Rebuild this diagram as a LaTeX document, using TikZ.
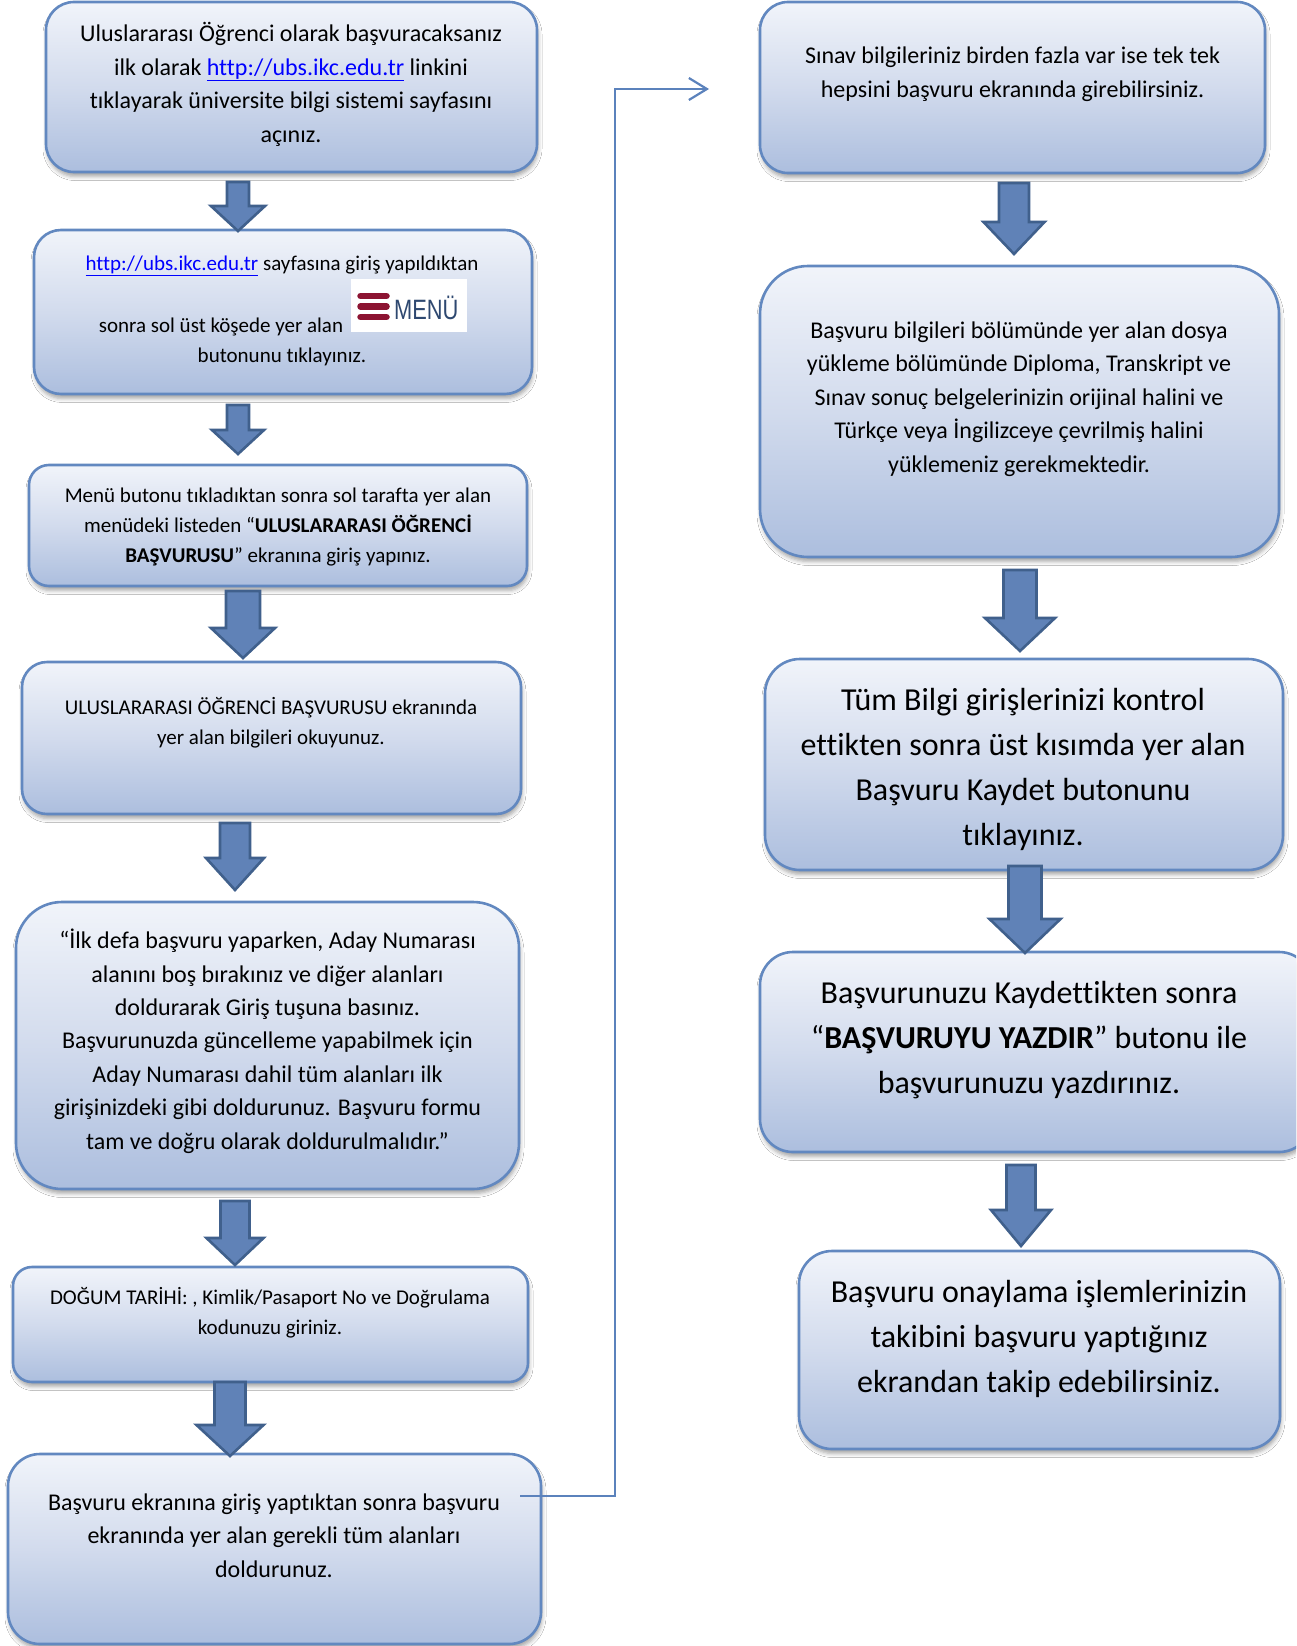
\documentclass[tikz,border=0pt]{standalone}
\usepackage{fontspec}
\setmainfont{Carlito}[Ligatures=NoCommon]
\newfontfamily\menufont{Liberation Sans}
\usetikzlibrary{arrows.meta,fit,shadows.blur}
\definecolor{boxline}{RGB}{98,136,192}
\definecolor{boxtop}{RGB}{241,244,250}
\definecolor{boxmid}{RGB}{210,219,237}
\definecolor{boxbot}{RGB}{172,190,222}
\definecolor{arrfill}{RGB}{96,130,183}
\definecolor{arrline}{RGB}{64,96,140}
\definecolor{connline}{RGB}{91,130,188}
\definecolor{linkblue}{RGB}{0,0,255}
\definecolor{menured}{RGB}{140,20,50}
\definecolor{menublue}{RGB}{46,72,112}
\newcommand\weblink[1]{\textcolor{linkblue}{\underline{#1}}}
% cx, top, headbase, tip, shaftwidth, headwidth
\newcommand\flowarrow[6]{%
  \draw[blockarrow] ({#1-#5/2},#2) -- ({#1+#5/2},#2) -- ({#1+#5/2},#3) -- ({#1+#6/2},#3)
    -- (#1,#4) -- ({#1-#6/2},#3) -- ({#1-#5/2},#3) -- cycle;}
\begin{document}
\begin{tikzpicture}[x=1pt,y=-1pt,
  flowbox/.style={draw=boxline, line width=2.6pt, top color=boxtop, bottom color=boxbot,
    middle color=boxmid, inner sep=0pt,
    blur shadow={shadow xshift=1pt, shadow yshift=-4.5pt, shadow blur radius=4pt, shadow opacity=35}},
  blockarrow/.style={draw=arrline, fill=arrfill, line width=2.6pt, line join=miter},
  conn/.style={draw=connline, line width=2.2pt},
  txtS/.style={font=\fontsize{21}{29.7}\selectfont, align=center, anchor=base, inner sep=0pt},
  txtM/.style={font=\fontsize{24}{33.4}\selectfont, align=center, anchor=base, inner sep=0pt},
  txtL/.style={font=\fontsize{32}{44.8}\selectfont, align=center, anchor=base, inner sep=0pt}]
\useasboundingbox (0,0) rectangle (1296,1646);
\fill[white] (0,0) rectangle (1296,1646);
\clip (0,0) rectangle (1296,1646);

% ---------- left column boxes ----------
\node[flowbox, rounded corners=28pt, fit={(46,2) (537,172)}] (b1) {};
\node[flowbox, rounded corners=27pt, fit={(34,230) (532,394)}] (b2) {};
\node[flowbox, rounded corners=20pt, fit={(29,465) (527,586)}] (b3) {};
\node[flowbox, rounded corners=25pt, fit={(22,662) (521,814)}] (b4) {};
\node[flowbox, rounded corners=46pt, fit={(16,902) (519,1189)}] (b5) {};
\node[flowbox, rounded corners=19pt, fit={(13,1267) (528,1382)}] (b6) {};
\node[flowbox, rounded corners=32pt, fit={(8,1454) (541,1644)}] (b7) {};

% ---------- right column boxes ----------
\node[flowbox, rounded corners=28pt, fit={(760,2) (1265,173)}] (r1) {};
\node[flowbox, rounded corners=48pt, fit={(760,266) (1279,557)}] (r2) {};
\node[flowbox, rounded corners=35pt, fit={(765,659) (1283,870)}] (r3) {};
\node[flowbox, rounded corners=33pt, fit={(760,952) (1312,1152)}] (r4) {};
\node[flowbox, rounded corners=33pt, fit={(799,1251) (1280,1449)}] (r5) {};

% ---------- texts (anchor = baseline of the last line) ----------
\node[txtM] (t1) at (291,142) {Uluslararası Öğrenci olarak başvuracaksanız\\
  ilk olarak \weblink{http://ubs.ikc.edu.tr} linkini\\
  tıklayarak üniversite bilgi sistemi sayfasını\\ açınız.};
\node[txtS] (t2) at (282,362) {\weblink{http://ubs.ikc.edu.tr} sayfasına giriş yapıldıktan\\[32.5pt]
  sonra sol üst köşede yer alan\rule{122pt}{0pt}\\ butonunu tıklayınız.};
\node[txtS] (t3) at (278,562) {Menü butonu tıkladıktan sonra sol tarafta yer alan\\
  menüdeki listeden “\textbf{ULUSLARARASI ÖĞRENCİ}\\ \textbf{BAŞVURUSU}” ekranına giriş yapınız.};
\node[txtS] (t4) at (271,744) {ULUSLARARASI ÖĞRENCİ BAŞVURUSU ekranında\\ yer alan bilgileri okuyunuz.};
\node[txtM] (t5) at (267.5,1149) {“İlk defa başvuru yaparken, Aday Numarası\\
  alanını boş bırakınız ve diğer alanları\\ doldurarak Giriş tuşuna basınız.\\
  Başvurunuzda güncelleme yapabilmek için\\ Aday Numarası dahil tüm alanları ilk\\
  girişinizdeki gibi doldurunuz. Başvuru formu\\ tam ve doğru olarak doldurulmalıdır.”};
\node[txtS] (t6) at (270,1334) {DOĞUM TARİHİ: , Kimlik/Pasaport No ve Doğrulama\\ kodunuzu giriniz.};
\node[txtM] (t7) at (274,1577) {Başvuru ekranına giriş yaptıktan sonra başvuru\\
  ekranında yer alan gerekli tüm alanları\\ doldurunuz.};
\node[txtM] (u1) at (1012.5,97) {Sınav bilgileriniz birden fazla var ise tek tek\\
  hepsini başvuru ekranında girebilirsiniz.};
\node[txtM] (u2) at (1019,472) {Başvuru bilgileri bölümünde yer alan dosya\\
  yükleme bölümünde Diploma, Transkript ve\\ Sınav sonuç belgelerinizin orijinal halini ve\\
  Türkçe veya İngilizceye çevrilmiş halini\\ yüklemeniz gerekmektedir.};
\node[txtL] (u3) at (1023,845) {Tüm Bilgi girişlerinizi kontrol\\ ettikten sonra üst kısımda yer alan\\
  Başvuru Kaydet butonunu\\ tıklayınız.};
\node[txtL] (u4) at (1029,1093) {Başvurunuzu Kaydettikten sonra\\
  “\textbf{BAŞVURUYU YAZDIR}” butonu ile\\ başvurunuzu yazdırınız.};
\node[txtL] (u5) at (1039,1392) {Başvuru onaylama işlemlerinizin\\ takibini başvuru yaptığınız\\
  ekrandan takip edebilirsiniz.};

% ---------- menu button picture ----------
\node[fill=white, inner sep=0pt, minimum width=116pt, minimum height=53pt, anchor=north west] (menuicon) at (351,279) {};
\draw[menured, line width=6.5pt, line cap=round] (360.5,296) -- (386.5,296);
\draw[menured, line width=6.5pt, line cap=round] (360.5,306.5) -- (386.5,306.5);
\draw[menured, line width=6.5pt, line cap=round] (360.5,317) -- (386.5,317);
\node[anchor=base west, inner sep=0pt, text=menublue, font=\menufont\fontsize{28}{30}\selectfont] (menutext) at (394,319) {\scalebox{0.78}[1]{MENÜ}};

% ---------- block arrows ----------
\flowarrow{238}{182}{206}{231}{22}{54}
\flowarrow{238}{405}{430}{454}{22}{52}
\flowarrow{243}{591}{628}{658}{34}{64}
\flowarrow{235}{823}{858}{890}{30}{58}
\flowarrow{235}{1201}{1238}{1265}{29}{57}
\flowarrow{230}{1382}{1425}{1456}{31}{67}
\flowarrow{1014}{183}{222}{254}{30}{61}
\flowarrow{1020}{570}{618}{651}{33}{70}
\flowarrow{1025}{866}{919}{953}{33}{71}
\flowarrow{1021}{1165}{1210}{1246}{29}{60}

% ---------- connector ----------
\coordinate (cs) at (520,1496);
\coordinate (ce) at (709,89);
\draw[conn, -{Straight Barb[length=18pt, width=22pt]}] (cs) -- ++(95,0) |- (ce);
\end{tikzpicture}
\end{document}
